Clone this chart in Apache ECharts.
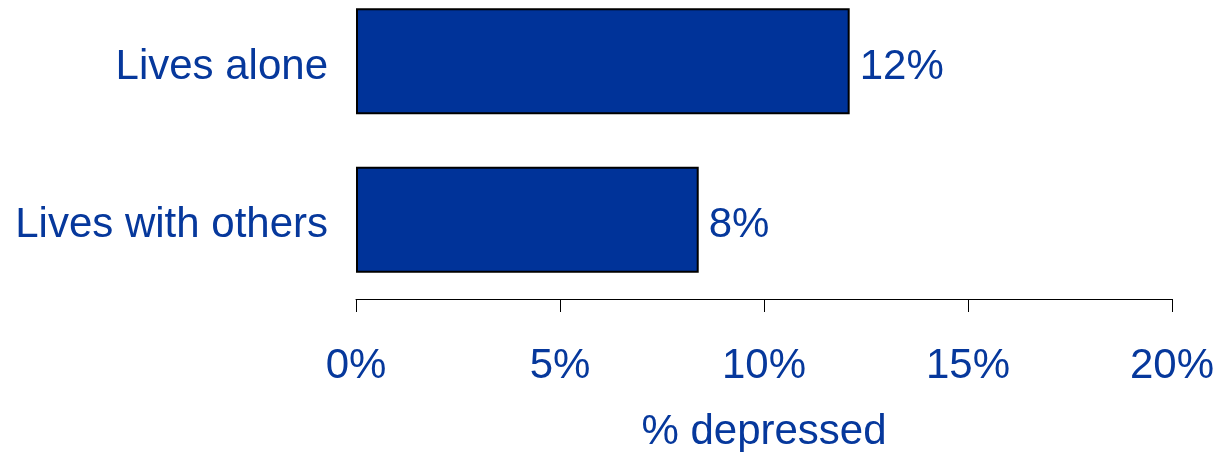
<!DOCTYPE html>
<html>
<head>
<meta charset="utf-8">
<script src="https://cdn.jsdelivr.net/npm/echarts@6/dist/echarts.min.js"></script>
<style>
  html, body { margin: 0; padding: 0; background: #ffffff; }
  #chart { width: 1232px; height: 452px; }
</style>
</head>
<body>
<div id="chart"></div>
<script>
// Share of people who are depressed, by living arrangement
const categories = ['Lives with others', 'Lives alone'];
const depressedPct = [8.4, 12.1];
const xTicks = [0, 5, 10, 15, 20];

const BLUE_TEXT = '#06389c';
const BAR_FILL = '#003399';
const FONT = '"Liberation Sans", Arial, sans-serif';

const chart = echarts.init(document.getElementById('chart'), null, { renderer: 'canvas' });
chart.setOption({
  animation: false,
  backgroundColor: '#ffffff',
  grid: {
    left: 356, right: 60, top: -18, bottom: 153,
    containLabel: false, outerBoundsMode: 'none'
  },
  xAxis: {
    type: 'value',
    min: xTicks[0],
    max: xTicks[xTicks.length - 1],
    interval: 5,
    name: '% depressed',
    nameLocation: 'middle',
    nameGap: 112,
    nameTextStyle: { color: BLUE_TEXT, fontSize: 42, fontFamily: FONT },
    axisLine: { show: true, lineStyle: { color: '#000000', width: 1 } },
    axisTick: { show: true, inside: false, length: 13, lineStyle: { color: '#000000', width: 1 } },
    splitLine: { show: false },
    axisLabel: {
      color: BLUE_TEXT, fontSize: 42, fontFamily: FONT, margin: 46,
      formatter: v => v + '%'
    }
  },
  yAxis: {
    type: 'category',
    data: categories,
    axisLine: { show: false },
    axisTick: { show: false },
    axisLabel: {
      margin: 28,
      formatter: v => '{cat|' + v + '}',
      rich: {
        cat: {
          color: BLUE_TEXT, fontSize: 42, fontFamily: FONT,
          padding: [12, 0, 0, 0]
        }
      }
    }
  },
  series: [{
    type: 'bar',
    data: depressedPct,
    barWidth: 106,
    itemStyle: { color: BAR_FILL, borderColor: '#000000', borderWidth: 2 },
    label: {
      show: true,
      position: 'right',
      distance: 10,
      offset: [0, 6],
      color: BLUE_TEXT,
      fontSize: 42,
      fontFamily: FONT,
      formatter: p => Math.round(p.value) + '%'
    }
  }]
});
</script>
</body>
</html>
